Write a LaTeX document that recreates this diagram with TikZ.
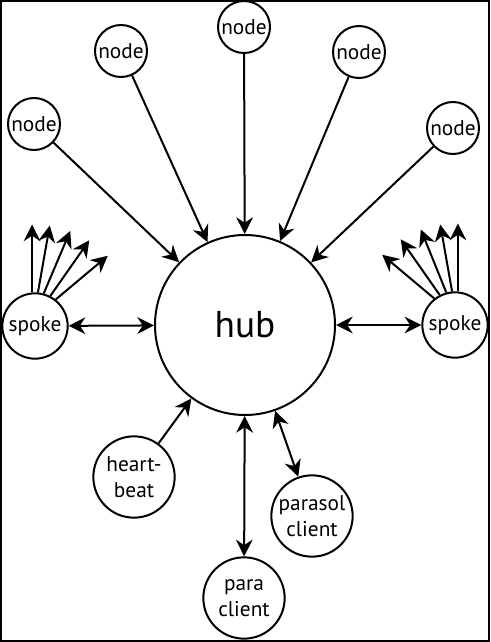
\documentclass[tikz,border=0pt]{standalone}
\usepackage{fontspec}
\setmainfont{PT Sans}
\usetikzlibrary{arrows.meta}

\begin{document}
\begin{tikzpicture}[>={Stealth[length=12.5pt,width=12.5pt]}, x=0.75pt, y=0.75pt, line width=1.5pt,
    hubnode/.style={circle, draw, inner sep=0pt, minimum size=135pt, font=\fontsize{28}{32}\selectfont},
    leaf/.style={circle, draw, inner sep=0pt, minimum size=39pt, font=\fontsize{16}{19}\selectfont},
    spokenode/.style={leaf, minimum size=49pt},
    client/.style={leaf, minimum size=61pt, align=center, font=\fontsize{16}{19}\selectfont}]
    \useasboundingbox (0,0) rectangle (490,-642);
    \draw (1,-1) rectangle (489,-641);
    \node[hubnode] (hub) at (245,-325) {hub};
    \foreach \x/\y [count=\i] in {34/124,121/51,244/27,359/52,453/128} {
        \node[leaf] (n\i) at (\x,-\y) {node};
        \draw[->] (n\i) -- (hub);
    }
    \node[spokenode] (spokeL) at (35,-326) {spoke};
    \node[spokenode] (spokeR) at (455,-325) {spoke};
    \draw[<->] (spokeL) -- (hub);
    \draw[<->] (spokeR) -- (hub);
    \foreach \a/\d in {95/90,85/80,75/67,63/55,52/40}
        \draw[->] (spokeL.\a) -- ++(\d:68);
    \foreach \a/\d in {85/90,95/100,105/112,117/125,128/140}
        \draw[->] (spokeR.\a) -- ++(\d:68);
    \node[client] (beat) at (134,-477) {heart-\\beat};
    \node[client] (parasol) at (312,-516) {parasol\\client};
    \node[client] (para) at (244,-598) {para\\client};
    \draw[->] (beat) -- (hub);
    \draw[<->] (parasol) -- (hub);
    \draw[<->] (para) -- (hub);
\end{tikzpicture}
\end{document}
